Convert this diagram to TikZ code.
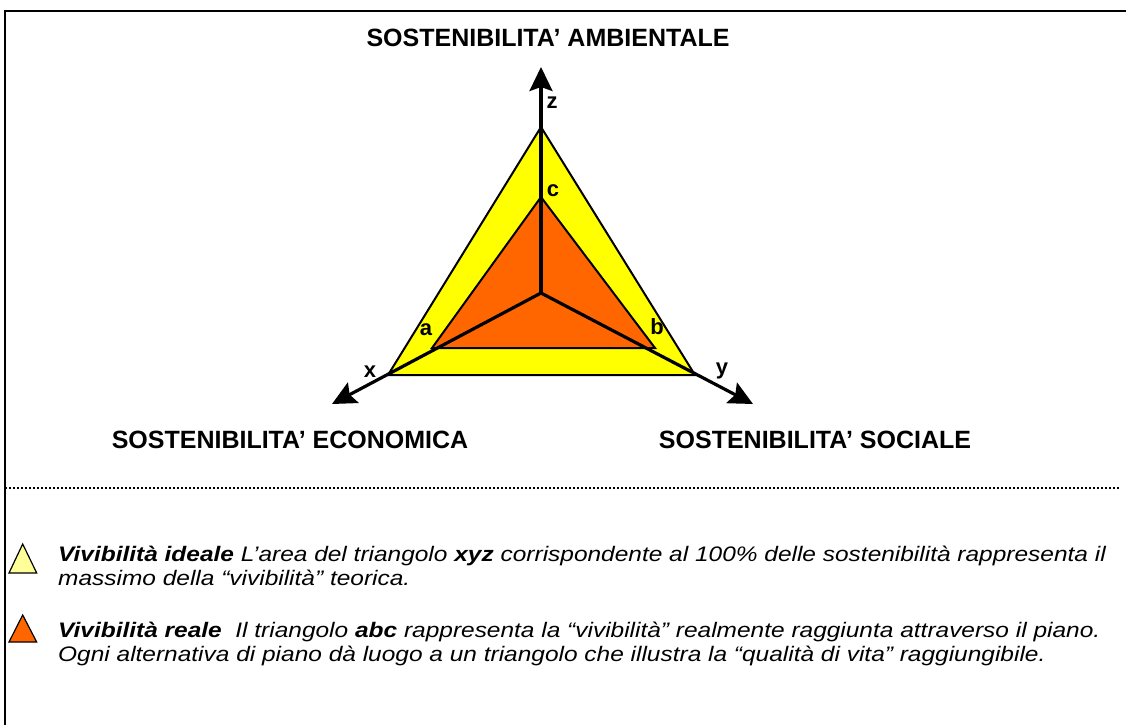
\documentclass[tikz,border=0pt]{standalone}
\usepackage{fontspec}
\setmainfont{Liberation Sans}
\usetikzlibrary{arrows.meta}
\definecolor{ideal}{HTML}{FFFF00}
\definecolor{real}{HTML}{FF6600}
\definecolor{ideallight}{HTML}{FFFF99}
\newcommand{\legtext}[1]{\scalebox{1.165}[1]{#1}}
\tikzset{
  axis/.style={line width=3.2pt,-{Stealth[length=24pt,width=23pt,inset=4pt]}},
  tri/.style={line width=2pt,line join=miter},
  title/.style={font=\fontsize{25}{29}\selectfont\bfseries,inner sep=0pt},
  vlabel/.style={font=\fontsize{22}{26}\selectfont\bfseries,inner sep=0pt},
  legend/.style={font=\fontsize{21}{24}\selectfont\itshape,anchor=base west,inner sep=0pt},
  frame/.style={line width=2.5pt},
  sep/.style={line width=2pt,dash pattern=on 2pt off 2pt}
}
\begin{document}
\begin{tikzpicture}[x=1pt,y=-1pt]
\useasboundingbox (0,0) rectangle (1126,724);
\fill[white] (0,0) rectangle (1126,724);
% frame
\coordinate (fbl) at (5,726);
\coordinate (ftl) at (5,11);
\coordinate (ftr) at (1128,11);
\draw[frame] (fbl) -- (ftl) -- (ftr);
% separator
\coordinate (s1) at (5,488);
\coordinate (s2) at (1120,488);
\draw[sep] (s1) -- (s2);
% geometry
\coordinate (O) at (541,293);
\coordinate (z) at (541,127);
\coordinate (x) at (388,375);
\coordinate (y) at (695,375);
\coordinate (c) at (541,197);
\coordinate (a) at (432,348);
\coordinate (b) at (655,348);
\coordinate (ztip) at (541,67);
\coordinate (xtip) at (332,404);
\coordinate (ytip) at (753,404);
\filldraw[tri,fill=ideal] (x) -- (y) -- (z) -- cycle;
\filldraw[tri,fill=real] (a) -- (b) -- (c) -- cycle;
\draw[axis] (O) -- (ztip);
\draw[axis] (O) -- (xtip);
\draw[axis] (O) -- (ytip);
% vertex labels
\node[vlabel] (lz) at (552,103) {z};
\node[vlabel] (lc) at (553,191) {c};
\node[vlabel] (la) at (426,330) {a};
\node[vlabel] (lb) at (657,327) {b};
\node[vlabel] (lx) at (370,372) {x};
\node[vlabel] (ly) at (722,371) {y};
% titles
\node[title,anchor=base] (tA) at (548,46.5) {SOSTENIBILITA’ AMBIENTALE};
\node[title,anchor=base] (tE) at (290,448.5) {SOSTENIBILITA’ ECONOMICA};
\node[title,anchor=base] (tS) at (815,448.5) {SOSTENIBILITA’ SOCIALE};
% legend
\coordinate (ya) at (22.7,544);
\coordinate (yb) at (9,573);
\coordinate (yc) at (36.7,573);
\filldraw[line width=1.2pt,fill=ideallight,line join=miter] (ya) -- (yb) -- (yc) -- cycle;
\coordinate (oa) at (22.7,615);
\coordinate (ob) at (9,642);
\coordinate (oc) at (36.7,642);
\filldraw[line width=1.2pt,fill=real,line join=miter] (oa) -- (ob) -- (oc) -- cycle;
\node[legend] (l1) at (58,561) {\legtext{\textbf{Vivibilità ideale} L’area del triangolo \textbf{xyz} corrispondente al 100\% delle sostenibilità rappresenta il}};
\node[legend] (l2) at (58,585) {\legtext{massimo della “vivibilità” teorica.}};
\node[legend] (l3) at (58,637) {\legtext{\textbf{Vivibilità reale}\ \ Il triangolo \textbf{abc} rappresenta la “vivibilità” realmente raggiunta attraverso il piano.}};
\node[legend] (l4) at (58,661) {\legtext{Ogni alternativa di piano dà luogo a un triangolo che illustra la “qualità di vita” raggiungibile.}};
\end{tikzpicture}
\end{document}
